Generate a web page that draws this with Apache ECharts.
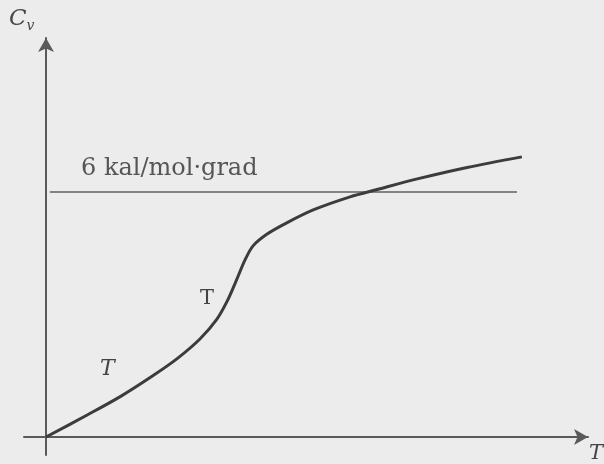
<!DOCTYPE html>
<html>
<head>
<meta charset="utf-8">
<script src="https://cdn.jsdelivr.net/npm/echarts@6/dist/echarts.min.js"></script>
<style>
html,body{margin:0;padding:0;background:#ececec;}
#c{width:604px;height:464px;}
</style>
</head>
<body>
<div id="c"></div>
<script>
// Temperature (arbitrary units) and heat capacity Cv (kal/mol·grad)
var T_values = [0, 0.76, 1.37, 1.97, 2.42, 2.84, 3.15, 3.34, 3.52, 3.67, 3.82, 4.08, 4.45, 4.93, 5.61, 6.11, 6.85, 7.77, 8.78];
var Cv_values = [0, 0.54, 0.99, 1.50, 1.92, 2.40, 2.88, 3.32, 3.86, 4.33, 4.68, 4.97, 5.25, 5.56, 5.88, 6.06, 6.32, 6.60, 6.86];
var limitValue = 6;
var limitRange = [0.07, 8.69];
var limitLabel = '6 kal/mol·grad';
var yAxisLabel = 'C';
var yAxisSub = 'v';
var xAxisLabel = 'T';
var curveLabels = ['T', 'T'];

var curve = T_values.map(function (t, i) { return [t, Cv_values[i]]; });

var chart = echarts.init(document.getElementById('c'), null, {renderer: 'canvas'});
var axisColor = '#5a5a5a';
chart.setOption({
  backgroundColor: '#ececec',
  animation: false,
  grid: {left: 24, right: 16, top: 38, bottom: 9},
  xAxis: {
    type: 'value', min: -0.406, max: 10,
    axisLine: {onZero: true, symbol: ['none', 'arrow'], symbolSize: [12, 14], lineStyle: {color: axisColor, width: 2}},
    axisTick: {show: false}, axisLabel: {show: false}, splitLine: {show: false}
  },
  yAxis: {
    type: 'value', min: -0.44, max: 9.77,
    axisLine: {onZero: true, symbol: ['none', 'arrow'], symbolSize: [12, 14], lineStyle: {color: axisColor, width: 2}},
    axisTick: {show: false}, axisLabel: {show: false}, splitLine: {show: false}
  },
  series: [
    {
      type: 'line',
      data: [[limitRange[0], limitValue], [limitRange[1], limitValue]],
      showSymbol: false, silent: true,
      lineStyle: {color: '#606060', width: 1.6}
    },
    {
      type: 'line',
      data: curve,
      smooth: 0.3,
      showSymbol: false, silent: true,
      lineStyle: {color: '#3c3c3c', width: 3}
    }
  ],
  graphic: [
    {type: 'text', left: 9, top: 8, style: {
      text: '{c|' + yAxisLabel + '}{s|' + yAxisSub + '}',
      rich: {
        c: {fontFamily: 'DejaVu Serif', fontStyle: 'italic', fontSize: 23, fill: '#4a4a4a'},
        s: {fontFamily: 'DejaVu Serif', fontStyle: 'italic', fontSize: 14, fill: '#4a4a4a', verticalAlign: 'bottom', padding: [14, 0, 0, 0]}
      }
    }},
    {type: 'text', left: 81, top: 157, style: {
      text: limitLabel, fontFamily: 'DejaVu Serif', fontSize: 24, fill: '#555555'
    }},
    {type: 'text', left: 100, top: 358, style: {
      text: curveLabels[0], fontFamily: 'DejaVu Serif', fontStyle: 'italic', fontSize: 22, fill: '#444444'
    }},
    {type: 'text', left: 200, top: 288, style: {
      text: curveLabels[1], fontFamily: 'DejaVu Serif', fontSize: 21, fill: '#444444'
    }},
    {type: 'text', left: 589, top: 443, style: {
      text: xAxisLabel, fontFamily: 'DejaVu Serif', fontStyle: 'italic', fontSize: 21, fill: '#444444'
    }}
  ]
});
</script>
</body>
</html>
